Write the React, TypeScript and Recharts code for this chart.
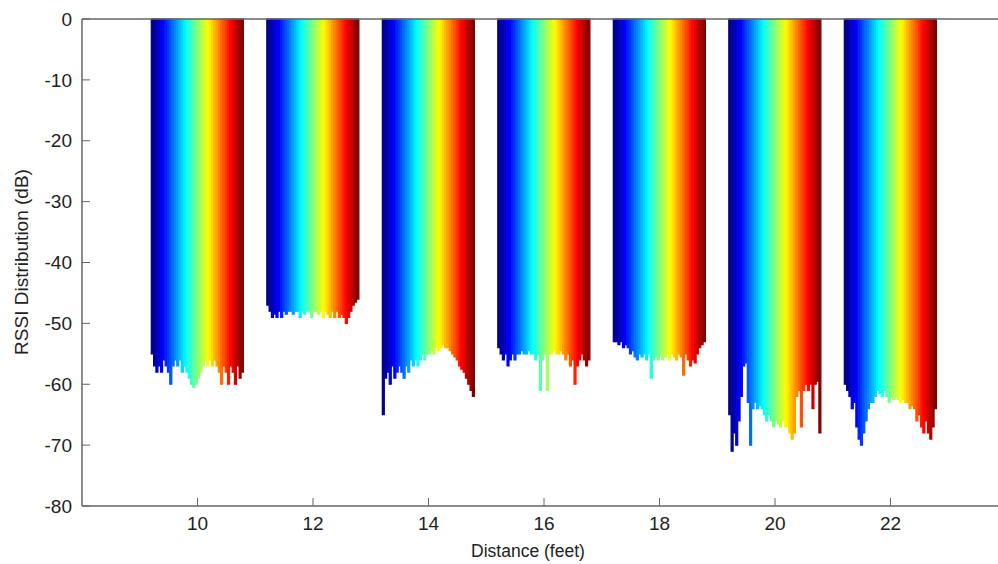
import { BarChart, Bar, Cell, XAxis, YAxis, Label } from 'recharts'

// distances (feet) on the x axis
const distances = [10, 12, 14, 16, 18, 20, 22]

// RSSI samples per distance (dB), one thin bar each
const rssi10 = [-55, -57, -58, -57, -58, -56, -57, -58, -60, -57, -56, -57, -56, -58, -57, -58, -59, -60, -60.5, -60, -59, -58, -57, -56, -57, -56, -57, -56, -57, -58, -60, -57, -58, -60, -57, -58, -60, -57, -59, -58]
const rssi12 = [-47, -48, -49, -48.5, -49, -48, -49, -48, -48.5, -48, -48, -48.5, -48, -48, -49, -48, -48.5, -48, -48, -49, -48, -48, -48.5, -48, -49, -48, -48.5, -49, -48, -49, -48, -49, -48.5, -49, -50, -49, -48, -47, -46.5, -46]
const rssi14 = [-65, -59, -58, -60, -57, -59, -58, -57, -58, -59, -57, -58, -56, -57, -56, -57, -56, -55, -56, -55, -55, -54.5, -55, -54, -54.5, -54, -53.5, -54, -54, -54.5, -55, -55.5, -56, -57, -57.5, -58, -59, -60, -61, -62]
const rssi16 = [-54, -55, -56, -55, -57, -56, -55, -56, -55, -55, -54.5, -55, -55, -54.5, -55, -55, -56, -55, -61, -56, -55, -61, -55, -55, -54.5, -55, -55, -54.5, -55, -56, -55, -57, -56, -60, -57, -56, -55, -56, -57, -56]
const rssi18 = [-53, -53, -53.5, -53, -54, -53.5, -54, -55, -54.5, -55.5, -56, -55, -55.5, -55, -56, -55, -59, -56, -55.5, -56, -55, -56, -55.5, -55, -56, -55, -55.5, -56, -55, -55.5, -58.5, -55, -56, -57, -56, -56.5, -55, -54, -53.5, -53]
const rssi20 = [-65, -71, -68, -70, -66, -62, -57, -56.5, -63, -70, -64, -63, -64, -63.5, -64, -65, -66, -65, -66, -67, -66, -66.5, -67, -66, -67, -67, -68, -69, -68, -62, -61, -67, -61, -60, -61, -60, -64, -60, -59.5, -68]
const rssi22 = [-60, -61, -62, -64, -63, -67, -69, -70, -68, -66, -64, -63, -63, -62, -61, -61.5, -62, -61, -62, -63, -62, -62.5, -62, -62.5, -63, -62.5, -63, -63, -64, -63.5, -64, -66, -65, -67, -68, -66, -68, -69, -67, -64]

const rssiByDistance = [rssi10, rssi12, rssi14, rssi16, rssi18, rssi20, rssi22]

const xTicks = [10, 12, 14, 16, 18, 20, 22]
const yTicks = [-80, -70, -60, -50, -40, -30, -20, -10, 0]

// matlab style jet colormap
const jet = (t: number) => {
  const c = (v: number) => Math.round(255 * Math.max(0, Math.min(1, v)))
  const r = c(1.5 - Math.abs(4 * t - 3))
  const g = c(1.5 - Math.abs(4 * t - 2))
  const b = c(1.5 - Math.abs(4 * t - 1))
  return `rgb(${r},${g},${b})`
}

const groupWidth = 1.6

const rows = distances.flatMap((d, g) => {
  const values = rssiByDistance[g]
  return values.map((v, i) => ({
    x: d - groupWidth / 2 + ((i + 0.5) * groupWidth) / values.length,
    rssi: v,
    color: jet(i / (values.length - 1)),
  }))
})

const fontFamily = 'Liberation Sans, Arial, sans-serif'
const font = { fill: '#222', fontSize: 19, fontFamily }
const axisColor = '#666'

const App = () => {
  return (
    <div style={{ position: 'absolute', left: 0, top: 0, width: 998, height: 564, overflow: 'hidden', background: '#fff' }}>
      <BarChart
        width={1020}
        height={564}
        data={rows}
        margin={{ top: 18, right: 0, bottom: 0, left: 0 }}
        barGap={0}
        barCategoryGap={0}
      >
        <XAxis
          dataKey="x"
          type="number"
          domain={[8, 24]}
          ticks={xTicks}
          height={58}
          tick={font}
          tickSize={-8}
          tickMargin={19}
          axisLine={{ stroke: axisColor, strokeWidth: 1.5 }}
          tickLine={{ stroke: axisColor }}
          allowDataOverflow
        >
          <Label
            content={() => (
              <text x={528} y={557} textAnchor="middle" fontSize={17.5} fontFamily={fontFamily} fill="#222">
                Distance (feet)
              </text>
            )}
          />
        </XAxis>
        <XAxis
          xAxisId="top"
          orientation="top"
          type="number"
          domain={[8, 24]}
          ticks={xTicks}
          height={1}
          tick={false}
          tickSize={-8}
          axisLine={{ stroke: axisColor, strokeWidth: 1.5 }}
          tickLine={{ stroke: axisColor }}
        />
        <YAxis
          type="number"
          domain={[-80, 0]}
          ticks={yTicks}
          width={82}
          tick={font}
          tickSize={-8}
          tickMargin={18}
          axisLine={{ stroke: axisColor, strokeWidth: 1.5 }}
          tickLine={{ stroke: axisColor }}
        >
          <Label
            content={() => (
              <text x={28} y={262} textAnchor="middle" transform="rotate(-90 28 262)" fontSize={19} fontFamily={fontFamily} fill="#222">
                RSSI Distribution (dB)
              </text>
            )}
          />
        </YAxis>
        <YAxis
          yAxisId="right"
          orientation="right"
          type="number"
          domain={[-80, 0]}
          ticks={yTicks}
          width={14}
          tick={false}
          tickSize={-10}
          axisLine={{ stroke: axisColor, strokeWidth: 1.5 }}
          tickLine={{ stroke: axisColor }}
        />
        <Bar dataKey="rssi" barSize={2} isAnimationActive={false}>
          {rows.map((r, i) => (
            <Cell key={i} fill={r.color} stroke={r.color} strokeWidth={1.2} />
          ))}
        </Bar>
      </BarChart>
    </div>
  )
}

export default App
